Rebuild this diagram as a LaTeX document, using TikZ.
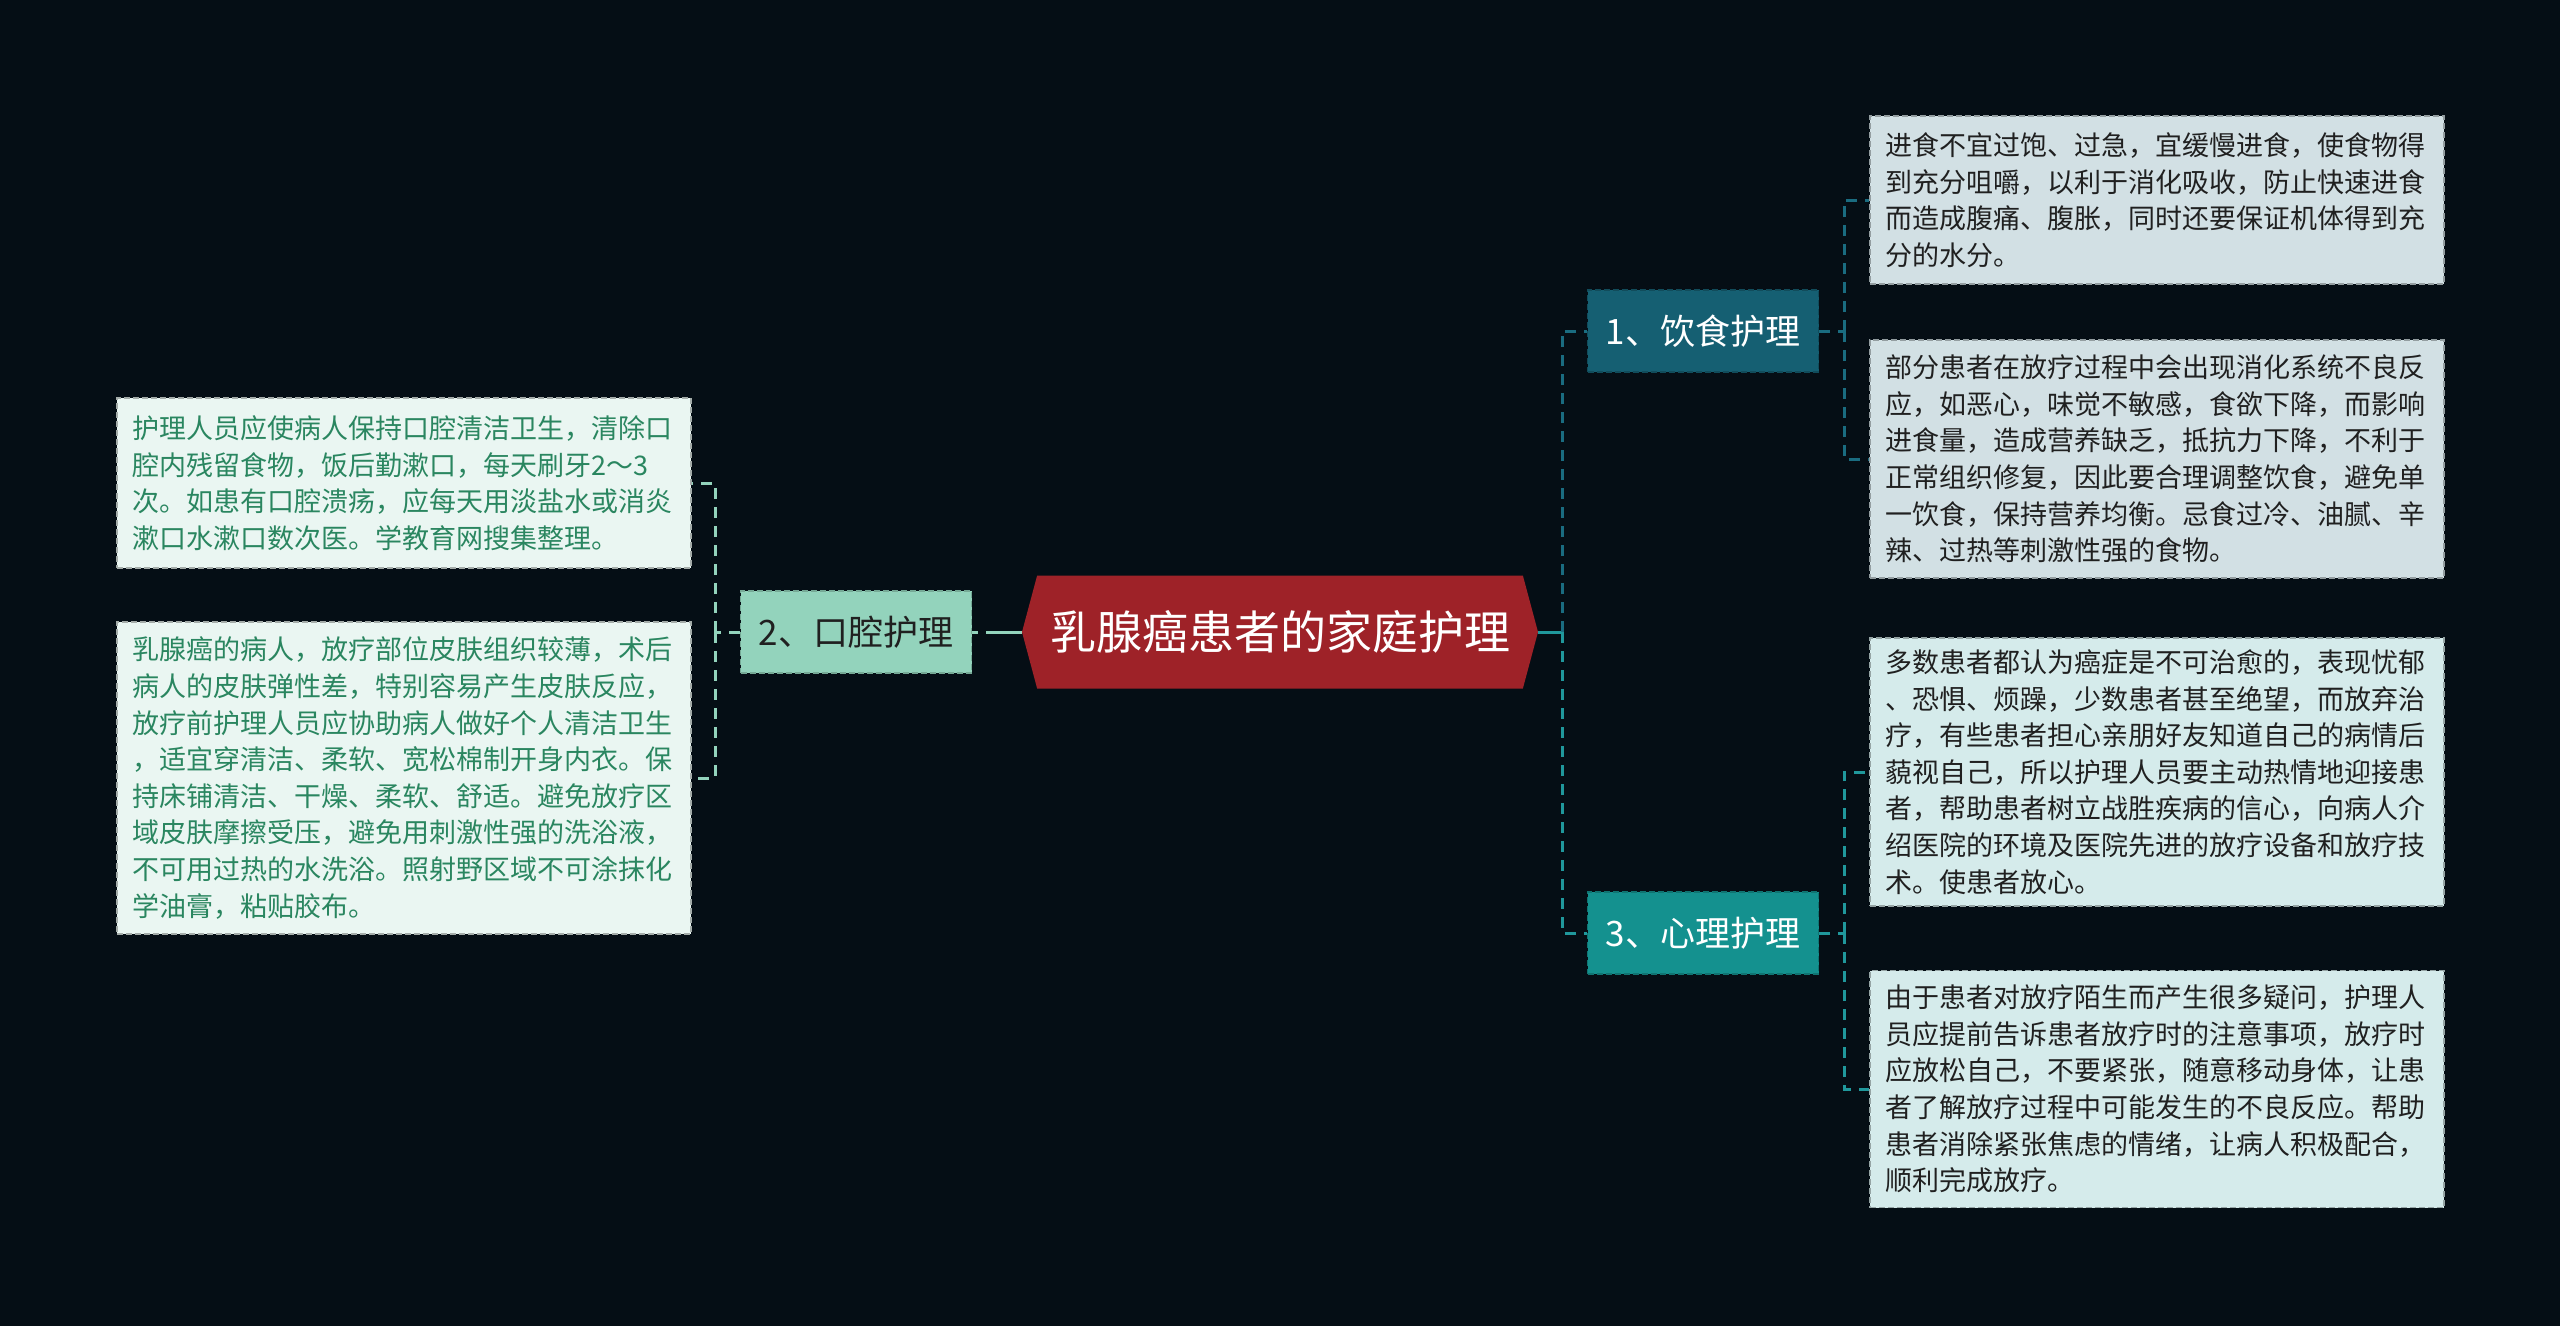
\documentclass[tikz,border=0pt]{standalone}
\usepackage{fontspec}
\setmainfont{Noto Sans CJK SC}
\usepackage{tikz}
\usetikzlibrary{shapes.symbols,calc}

\definecolor{bgc}{RGB}{5,14,21}
\definecolor{rootc}{RGB}{158,34,40}
\definecolor{dietc}{RGB}{21,95,114}
\definecolor{mindc}{RGB}{20,145,143}
\definecolor{oralc}{RGB}{147,211,188}
\definecolor{dietlink}{RGB}{26,108,128}
\definecolor{mindlink}{RGB}{32,152,156}
\definecolor{dietleaf}{RGB}{210,224,228}
\definecolor{mindleaf}{RGB}{213,235,235}
\definecolor{oralleaf}{RGB}{234,246,242}
\definecolor{oraltext}{RGB}{42,134,96}
\definecolor{darktext}{RGB}{32,32,32}

\begin{document}
\begin{tikzpicture}[x=1pt,y=-1pt]
    \tikzstyle{box}=[rectangle, draw, line width=1.5pt, dash pattern=on 6pt off 3pt]
    \tikzstyle{topic}=[box, minimum width=231pt, minimum height=82pt, inner sep=0pt,
        font=\fontsize{35}{40}\selectfont]
    \tikzstyle{leaf}=[box, anchor=west, text width=542pt, inner xsep=16pt, inner ysep=0pt,
        align=left, font=\fontsize{27}{36.6}\selectfont]
    \tikzstyle{link}=[line width=3pt, dash pattern=on 11pt off 8pt]

    \fill[bgc] (0,0) rectangle (2560,1326);
    \useasboundingbox (0,0) rectangle (2560,1326);

    \node[signal, signal to=west and east, signal pointer angle=150, minimum width=516pt,
        minimum height=113pt, inner sep=0pt, fill=rootc, text=white,
        font=\fontsize{46}{52}\selectfont] (root) at (1280,632) {乳腺癌患者的家庭护理};

    \node[topic, fill=dietc, draw=dietc!80!black, text=white] (diet) at (1703,331) {1、饮食护理};
    \node[topic, fill=oralc, draw=oralc!80!black, text=darktext] (oral) at (856,632) {2、口腔护理};
    \node[topic, fill=mindc, draw=mindc!80!black, text=white] (mind) at (1703,933) {3、心理护理};

    \node[leaf, fill=dietleaf, draw=dietleaf!70!black, text=darktext, minimum height=168pt] (diet1) at (1869,200)
        {进食不宜过饱、过急，宜缓慢进食，使食物得\\到充分咀嚼，以利于消化吸收，防止快速进食\\而造成腹痛、腹胀，同时还要保证机体得到充\\分的水分。};
    \node[leaf, fill=dietleaf, draw=dietleaf!70!black, text=darktext, minimum height=238pt] (diet2) at (1869,459)
        {部分患者在放疗过程中会出现消化系统不良反\\应，如恶心，味觉不敏感，食欲下降，而影响\\进食量，造成营养缺乏，抵抗力下降，不利于\\正常组织修复，因此要合理调整饮食，避免单\\一饮食，保持营养均衡。忌食过冷、油腻、辛\\辣、过热等刺激性强的食物。};
    \node[leaf, fill=mindleaf, draw=mindleaf!70!black, text=darktext, minimum height=268pt] (mind1) at (1869,772)
        {多数患者都认为癌症是不可治愈的，表现忧郁\\、恐惧、烦躁，少数患者甚至绝望，而放弃治\\疗，有些患者担心亲朋好友知道自己的病情后\\藐视自己，所以护理人员要主动热情地迎接患\\者，帮助患者树立战胜疾病的信心，向病人介\\绍医院的环境及医院先进的放疗设备和放疗技\\术。使患者放心。};
    \node[leaf, fill=mindleaf, draw=mindleaf!70!black, text=darktext, minimum height=237pt] (mind2) at (1869,1089)
        {由于患者对放疗陌生而产生很多疑问，护理人\\员应提前告诉患者放疗时的注意事项，放疗时\\应放松自己，不要紧张，随意移动身体，让患\\者了解放疗过程中可能发生的不良反应。帮助\\患者消除紧张焦虑的情绪，让病人积极配合，\\顺利完成放疗。};
    \node[leaf, fill=oralleaf, draw=oralleaf!70!black, text=oraltext, minimum height=170pt] (oral1) at (116,483)
        {护理人员应使病人保持口腔清洁卫生，清除口\\腔内残留食物，饭后勤漱口，每天刷牙2～3\\次。如患有口腔溃疡，应每天用淡盐水或消炎\\漱口水漱口数次医。学教育网搜集整理。};
    \node[leaf, fill=oralleaf, draw=oralleaf!70!black, text=oraltext, minimum height=312pt] (oral2) at (116,778)
        {乳腺癌的病人，放疗部位皮肤组织较薄，术后\\病人的皮肤弹性差，特别容易产生皮肤反应，\\放疗前护理人员应协助病人做好个人清洁卫生\\，适宜穿清洁、柔软、宽松棉制开身内衣。保\\持床铺清洁、干燥、柔软、舒适。避免放疗区\\域皮肤摩擦受压，避免用刺激性强的洗浴液，\\不可用过热的水洗浴。照射野区域不可涂抹化\\学油膏，粘贴胶布。};

    % trunk points
    \coordinate (rt) at (1562,632);
    \coordinate (lt) at (715,632);
    \coordinate (dt) at (1844,331);
    \coordinate (mt) at (1844,933);

    \draw[line width=3pt, mindlink] (root.east) -- (rt);
    \draw[link, dietlink] (rt) |- (diet.west);
    \draw[link, mindlink] (rt) |- (mind.west);
    \draw[line width=3pt, oralc, dash pattern=on 6pt off 8pt on 60pt off 1pt] (oral.east) -- (root.west);
    \draw[link, oralc] (oral.west) -- (lt);
    \draw[link, oralc] (lt) |- (oral1.east);
    \draw[link, oralc] (lt) |- (oral2.east);
    \draw[link, dietlink] (diet.east) -- (dt);
    \draw[link, dietlink] (dt) |- (diet1.west);
    \draw[link, dietlink] (dt) |- (diet2.west);
    \draw[link, mindlink] (mind.east) -- (mt);
    \draw[link, mindlink] (mt) |- (mind1.west);
    \draw[link, mindlink] (mt) |- (mind2.west);
\end{tikzpicture}
\end{document}
